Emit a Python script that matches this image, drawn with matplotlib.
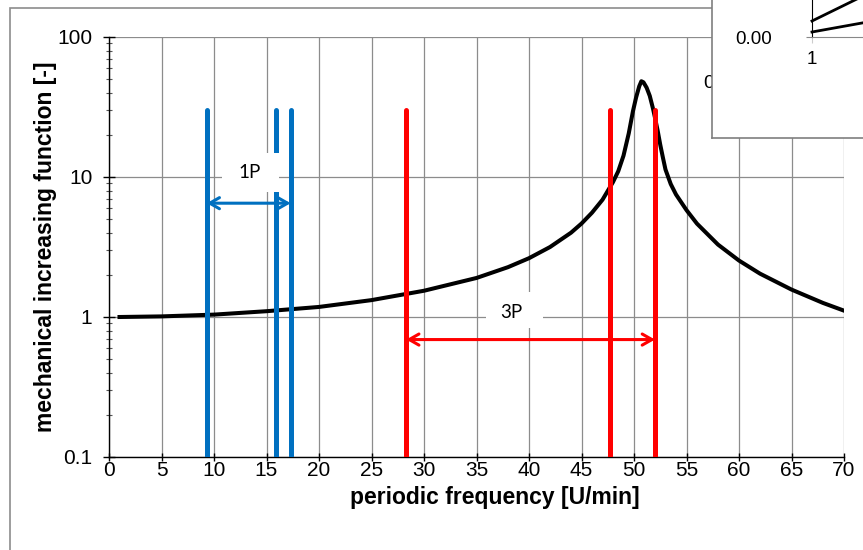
import matplotlib
matplotlib.use("Agg")
import matplotlib.pyplot as plt
from matplotlib.patches import Rectangle

plt.rcParams['font.family'] = ['Liberation Sans', 'DejaVu Sans']

# amplification curve
freq = [1, 5, 10, 15, 20, 25, 30, 35, 38, 40, 42, 44, 45, 46, 47, 48, 48.5, 49,
        49.5, 49.9, 50.2, 50.5, 50.7, 50.9, 51.2, 51.5, 51.8, 52.0, 52.25, 52.5,
        52.75, 53, 53.5, 54, 55, 56, 58, 60, 62, 65, 68, 70]
amp = [1.00, 1.01, 1.04, 1.10, 1.18, 1.32, 1.54, 1.90, 2.27, 2.63, 3.16, 4.00,
       4.65, 5.56, 6.88, 9.2, 11.0, 14.2, 20.5, 29.5, 37.0, 44.5, 48.3, 47.5,
       43.5, 38.0, 31.0, 26.5, 21.5, 17.0, 13.8, 11.3, 8.9, 7.5, 5.8, 4.64,
       3.29, 2.53, 2.04, 1.57, 1.26, 1.11]

# excitation ranges
blue_x = [9.3, 15.9, 17.3]
red_x = [28.3, 47.7, 52.0]
line_top = 30
range_1p = (9.3, 17.3, 6.5)
range_3p = (28.3, 52.0, 0.69)

yticks = [0.1, 1, 10, 100]
ytick_labels = ['0.1', '1', '10', '100']
xticks = list(range(0, 75, 5))

# inset (mostly outside the picture)
inset_x = [1, 2]
inset_a = [0.16, 0.65]
inset_b = [0.05, 0.23]

blue = '#0070C0'
red = '#FF0000'

fig = plt.figure(figsize=(8.63, 5.5), dpi=100)
fig.patches.append(Rectangle((10 / 863, -0.2), 1.2, 1.2 - 8 / 550,
                             transform=fig.transFigure, fill=False,
                             ec='#8c8c8c', lw=1.2))

ax = fig.add_axes([109 / 863, 1 - 457 / 550, 735 / 863, 420 / 550])
ax.set_yscale('log')
ax.set_xlim(0, 70)
ax.set_ylim(0.1, 100)

ax.plot(freq, amp, color='black', lw=2.9, solid_joinstyle='round', zorder=3)
for x in blue_x:
    ax.plot([x, x], [0.1, line_top], color=blue, lw=3.6,
            solid_capstyle='round', zorder=4)
for x in red_x:
    ax.plot([x, x], [0.1, line_top], color=red, lw=3.6,
            solid_capstyle='round', zorder=4)

for (x0, x1, y), c in [(range_1p, blue), (range_3p, red)]:
    ax.annotate('', xy=(x1, y), xytext=(x0, y),
                arrowprops=dict(arrowstyle='<->,head_length=0.7,head_width=0.4',
                                color=c, lw=2.2, shrinkA=0, shrinkB=0),
                zorder=5)

# label boxes
ax.add_patch(Rectangle((10.76, 7.75), 16.19 - 10.76, 14.96 - 7.75,
                       fc='white', ec='none', zorder=4.5))
ax.add_patch(Rectangle((35.9, 0.828), 41.33 - 35.9, 1.52 - 0.828,
                       fc='white', ec='none', zorder=4.5))
ax.text(13.4, 10.8, '1P', fontsize=13.5, family=['Lato', 'DejaVu Sans'],
        ha='center', va='center', zorder=6)
ax.text(38.3, 1.08, '3P', fontsize=13.5, family=['Lato', 'DejaVu Sans'],
        ha='center', va='center', zorder=6)

ax.set_xticks(xticks)
ax.set_yticks(yticks)
ax.set_yticklabels(ytick_labels)
ax.grid(True, which='major', color='#8c8c8c', lw=0.9)
ax.set_axisbelow(True)
for s in ['top', 'right']:
    ax.spines[s].set_visible(False)
for s in ['left', 'bottom']:
    ax.spines[s].set_linewidth(1.0)
ax.tick_params(axis='both', which='major', direction='inout', length=8,
               width=1, labelsize=15)
ax.tick_params(axis='x', length=6, pad=0)
ax.tick_params(axis='y', pad=8)
ax.tick_params(axis='y', which='minor', direction='inout', length=5,
               width=0.8, color='#555555')

ax.set_xlabel('periodic frequency [U/min]', fontsize=16.5, fontweight='bold')
ax.xaxis.set_label_coords(0.525, -0.068)
ax.set_ylabel('mechanical increasing function [-]', fontsize=16.5,
              fontweight='bold', labelpad=0)

ax.text(709 / 863, 1 - 84 / 550, '0', transform=fig.transFigure,
        fontsize=14, ha='center', va='center', clip_on=False)

# inset chart area
box = fig.add_axes([712 / 863, 1 - 138 / 550, 0.3, 0.4], zorder=5)
box.set_xticks([])
box.set_yticks([])
for s in box.spines.values():
    s.set_color('#7f7f7f')
    s.set_linewidth(1.2)

ins = fig.add_axes([812 / 863, 1 - 37 / 550, 100 / 863, 100 / 550], zorder=6)
ins.patch.set_alpha(0)
ins.set_xlim(1, 2)
ins.set_ylim(0, 1)
ins.plot(inset_x, inset_a, color='black', lw=2.0, clip_on=False)
ins.plot(inset_x, inset_b, color='black', lw=2.0, clip_on=False)
ins.set_xticks([1])
ins.set_yticks([0])
ins.set_yticklabels(['0.00'])
ins.spines['top'].set_visible(False)
ins.spines['right'].set_visible(False)
ins.spines['bottom'].set_color('#888888')
ins.tick_params(axis='y', direction='out', length=4, labelsize=13.5,
                color='#888888', pad=25)
ins.tick_params(axis='x', direction='out', length=4, labelsize=13.5,
                color='#cccccc', pad=6)

fig.savefig('out.png', dpi=100)
